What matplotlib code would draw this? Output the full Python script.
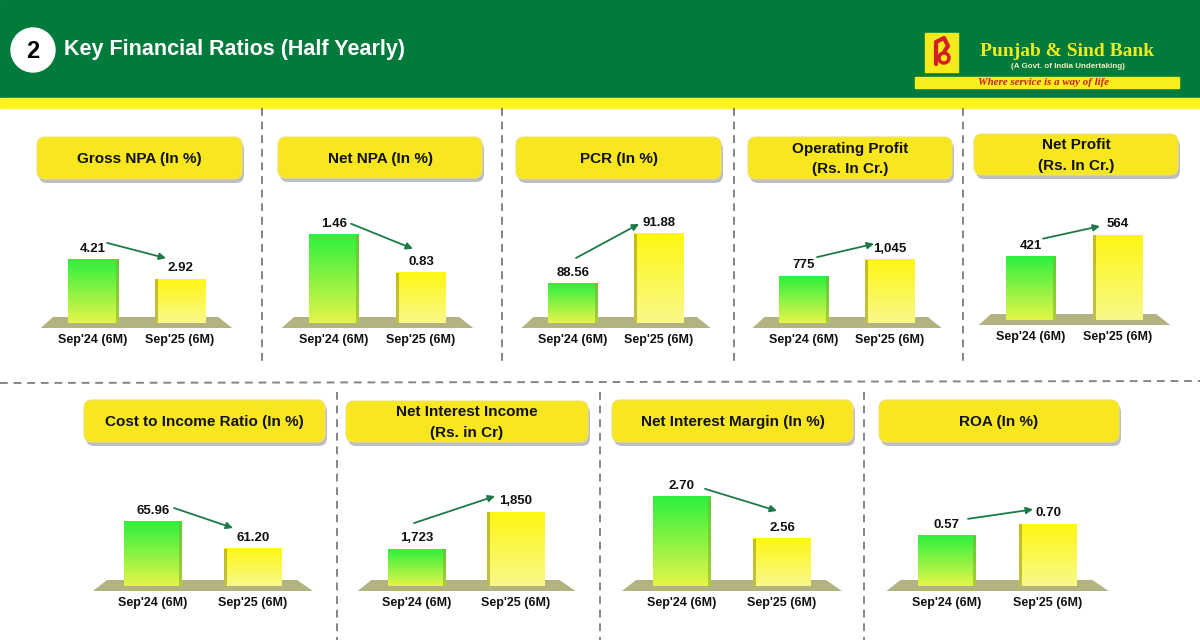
import numpy as np
import matplotlib
matplotlib.use('Agg')
import matplotlib.pyplot as plt
from matplotlib.patches import Rectangle, FancyBboxPatch, Polygon, Circle
from matplotlib.colors import LinearSegmentedColormap
from matplotlib.transforms import offset_copy
from matplotlib import font_manager

plt.rcParams['font.family'] = ['Liberation Sans', 'DejaVu Sans']

W, H = 1200, 640

# ---- data ----
periods = ["Sep'24 (6M)", "Sep'25 (6M)"]
titles = ['Gross NPA (In %)', 'Net NPA (In %)', 'PCR (In %)',
          'Operating Profit\n(Rs. In Cr.)', 'Net Profit\n(Rs. In Cr.)',
          'Cost to Income Ratio (In %)', 'Net Interest Income\n(Rs. in Cr)',
          'Net Interest Margin (In %)', 'ROA (In %)']
sep24 = [4.21, 1.46, 88.56, 775, 421, 65.96, 1723, 2.70, 0.57]
sep25 = [2.92, 0.83, 91.88, 1045, 564, 61.20, 1850, 2.56, 0.70]
label_fmt = ['{:.2f}', '{:.2f}', '{:.2f}', '{:,.0f}', '{:,.0f}',
             '{:.2f}', '{:,.0f}', '{:.2f}', '{:.2f}']

# value axis range of each small chart (the slide does not start every axis at 0)
y_limits = [(0, 8.67), (0, 2.15), (85.97, 94.6), (0, 2150), (0, 864),
            (54.67, 77.6), (1596, 2043), (2.403, 2.836), (0, 1.477)]

# ---- layout (pixels): first bar centre, bar spacing, bar width, floor y, title box ----
panels = [
    (93, 87, 51, 323, (37, 137, 242, 179)),
    (334, 87, 50, 323, (278, 137, 482, 178)),
    (573, 86, 50, 323, (516, 137, 721, 179)),
    (804, 86, 50, 323, (748, 137, 952, 179)),
    (1031, 87, 50, 320, (974, 134, 1178, 175)),
    (153, 100, 58, 586, (84, 400, 325, 442)),
    (417, 99, 58, 586, (346, 401, 588, 442)),
    (682, 100, 58, 586, (612, 400, 853, 442)),
    (947, 101, 58, 586, (879, 400, 1119, 442)),
]
# arrow start / end offsets from the bar tops (pixels)
arrow_offsets = [
    (14, 17, -14, 21), (17, 11, -8, 24), (3, 26, -20, 10),
    (13, 19, -16, 16), (12, 18, -18, 9), (21, 14, -20, 21),
    (-3, 26, -21, 16), (23, 8, -5, 28), (21, 17, -15, 15),
]

GREEN_BAR = ('#e4f548', '#2ef03e')
YELLOW_BAR = ('#f8f98a', '#fff614')
ARROW = '#1d7a48'

names = {f.name for f in font_manager.fontManager.ttflist}
narrow = 'Liberation Sans Narrow' in names


def px_rect(left, top, width, height):
    return [left / W, 1 - (top + height) / H, width / W, height / H]


fig = plt.figure(figsize=(12, 6.4), dpi=100)
fig.patch.set_facecolor('white')
bg = fig.add_axes([0, 0, 1, 1])
bg.set_xlim(0, W)
bg.set_ylim(H, 0)
bg.axis('off')

# header band
bg.add_patch(Rectangle((0, 0), W, 98, color='#007b3c', zorder=1))
bg.add_patch(Rectangle((0, 98), W, 10, color='#fff21f', zorder=1))
bg.add_patch(Circle((33, 50), 22, color='white', zorder=2))
bg.text(33, 51, '2', ha='center', va='center', fontsize=17, weight='bold', color='black', zorder=3)
if narrow:
    bg.text(64, 50, 'Key Financial Ratios (Half Yearly)', ha='left', va='center',
            fontsize=21, weight='bold', color='white', family='Liberation Sans Narrow', zorder=3)
else:
    bg.text(64, 50, 'Key Financial Ratios (Half Yearly)', ha='left', va='center',
            fontsize=15.5, weight='bold', color='white', zorder=3)

# bank logo block
bg.add_patch(Rectangle((925, 33), 33, 39, color='#f5ea1c', zorder=2))
bg.plot([936, 936, 944, 948, 944], [64, 42, 38, 46, 52], color='#d41f26', lw=3, zorder=3,
        solid_capstyle='round')
bg.add_patch(Circle((944, 58), 5, fill=False, ec='#d41f26', lw=2.5, zorder=3))
bg.text(1067, 52, 'Punjab & Sind Bank', ha='center', va='center', fontsize=14,
        weight='bold', color='#f3ea1e', family='Liberation Serif', zorder=3)
bg.text(1068, 67, '(A Govt. of India Undertaking)', ha='center', va='center', fontsize=5.8,
        weight='bold', color='#f3f0c0', zorder=3)
bg.add_patch(Rectangle((915, 77), 264, 11, color='#f8ee1c', zorder=2))
bg.text(978, 82.5, 'Where service is a way of life', ha='left', va='center', fontsize=7.8,
        weight='bold', style='italic', color='#c8201e', family='Liberation Serif', zorder=3)

# dashed separators
sep_kw = dict(color='#858585', lw=1.4, ls=(0, (4, 3)), zorder=1)
for x in [262, 502, 734, 963]:
    bg.plot([x, x], [108, 366], **sep_kw)
bg.plot([0, W], [383, 381], **sep_kw)
for x in [337, 600, 864]:
    bg.plot([x, x], [392, 640], **sep_kw)

for i, (c1, sp, bw, base, box) in enumerate(panels):
    x0, y0, x1, y1 = box
    # title box with shadow
    bg.add_patch(FancyBboxPatch((x0 + 2, y0 + 4), x1 - x0, y1 - y0,
                                boxstyle='round,pad=0,rounding_size=8',
                                fc='#a8a8a8', ec='none', alpha=0.75, zorder=2))
    bg.add_patch(FancyBboxPatch((x0, y0), x1 - x0, y1 - y0,
                                boxstyle='round,pad=0,rounding_size=8',
                                fc='#f8e71e', ec='#efe07a', lw=0.8, zorder=3))
    bg.text((x0 + x1) / 2, (y0 + y1) / 2 + 1, titles[i], ha='center', va='center',
            fontsize=11, weight='bold', color='#111111', linespacing=1.6, zorder=4)

    # floor
    c2 = c1 + sp
    floor = Polygon([(c1 - 0.46 * sp, base - 6), (c2 + 0.44 * sp, base - 6),
                     (c2 + 0.6 * sp, base + 5), (c1 - 0.6 * sp, base + 5)],
                    closed=True, fc='#b3b381', ec='none', zorder=2)
    bg.add_patch(floor)

    # chart axes
    ax = fig.add_axes(px_rect(c1 - sp / 2, base - 130, 2 * sp, 130))
    ax.patch.set_alpha(0)
    ymin, ymax = y_limits[i]
    vals = [sep24[i], sep25[i]]
    bars = ax.bar([0, 1], [v - ymin for v in vals], bottom=ymin, width=bw / sp,
                  color='none', zorder=2)
    for j, (rect, (bot_c, top_c)) in enumerate(zip(bars, [GREEN_BAR, YELLOW_BAR])):
        bx, by = rect.get_x(), rect.get_y()
        bwid, bh = rect.get_width(), rect.get_height()
        cmap = LinearSegmentedColormap.from_list('bar%d' % j, [bot_c, top_c])
        ax.imshow(np.linspace(0, 1, 64).reshape(-1, 1), extent=[bx, bx + bwid, by, by + bh],
                  origin='lower', aspect='auto', cmap=cmap, zorder=2)
        side = 3.0 / sp
        if j == 0:
            ax.add_patch(Rectangle((bx + bwid - side, by), side, bh, color='#7fae2c',
                                   alpha=0.55, zorder=3, lw=0))
        else:
            ax.add_patch(Rectangle((bx, by), side, bh, color='#9c9a1c',
                                   alpha=0.6, zorder=3, lw=0))
        ax.annotate(label_fmt[i].format(vals[j]), (j, vals[j]), xytext=(0, 5),
                    textcoords='offset pixels', ha='center', va='bottom',
                    fontsize=9.5, weight='bold', color='#111111')
    ax.set_xlim(-0.5, 1.5)
    ax.set_ylim(ymin, ymax)
    ax.set_xticks([0, 1])
    ax.set_xticklabels(periods, fontsize=9, weight='bold', color='#111111')
    ax.tick_params(axis='x', length=0, pad=8)
    ax.set_yticks([])
    for s in ax.spines.values():
        s.set_visible(False)

    # trend arrow
    dx0, dy0, dx1, dy1 = arrow_offsets[i]
    ax.annotate('', xy=(1, vals[1]), xytext=(0, vals[0]),
                xycoords=offset_copy(ax.transData, fig=fig, x=dx1, y=dy1, units='dots'),
                textcoords=offset_copy(ax.transData, fig=fig, x=dx0, y=dy0, units='dots'),
                arrowprops=dict(arrowstyle='-|>', color=ARROW, lw=1.3, mutation_scale=10,
                                shrinkA=0, shrinkB=0), annotation_clip=False)

fig.savefig('out.png', dpi=100)
